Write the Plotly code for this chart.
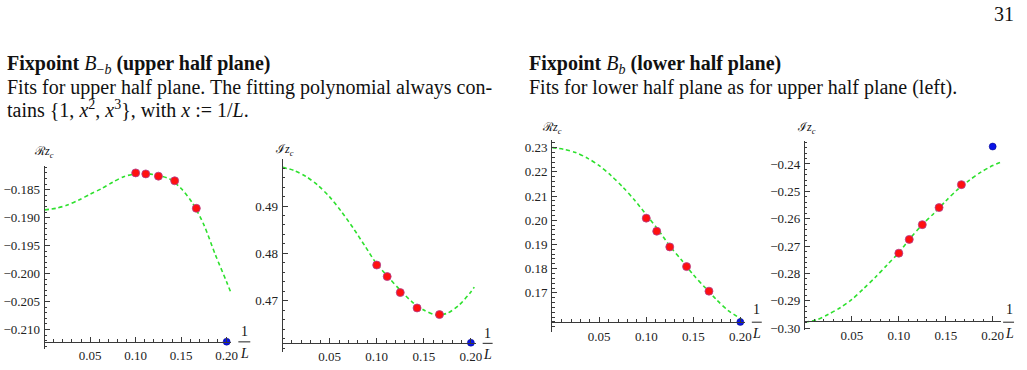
import plotly.graph_objects as go

# ---------------- data ----------------
L_inv = [1/10, 1/9, 1/8, 1/7, 1/6]          # red points, x = 1/L
L_inv_blue = [1/5]                           # blue point

# panel 1: Re z_c, upper half plane
re_up_red = [-0.18201, -0.18219, -0.18259, -0.18342, -0.18834]
re_up_blue = [-0.21218]
re_up_fit_x = [0, 0.0125, 0.025, 0.0375, 0.05, 0.0625, 0.075, 0.0875, 0.1, 0.1125,
               0.125, 0.1375, 0.15, 0.1625, 0.175, 0.1875, 0.2, 0.2044]
re_up_fit_y = [-0.18862, -0.18834, -0.18775, -0.18687, -0.18581, -0.18482, -0.18365,
               -0.18264, -0.18219, -0.18215, -0.18247, -0.18310, -0.18480, -0.18740,
               -0.19130, -0.19660, -0.20150, -0.20329]

# panel 2: Im z_c, upper half plane
im_up_red = [0.47755, 0.47512, 0.47174, 0.46849, 0.46710]
im_up_blue = [0.46116]
im_up_fit_x = [0, 0.0125, 0.025, 0.0375, 0.05, 0.0625, 0.075, 0.0875, 0.1, 0.1125,
               0.125, 0.1375, 0.15, 0.1625, 0.175, 0.1875, 0.2, 0.2036]
im_up_fit_y = [0.49815, 0.49747, 0.49622, 0.49436, 0.49193, 0.48882, 0.48535, 0.48156,
               0.47776, 0.47498, 0.47222, 0.46979, 0.46807, 0.46703, 0.46739, 0.46911,
               0.47187, 0.47290]

# panel 3: Re z_c, lower half plane
re_lo_red = [0.20088, 0.19547, 0.18898, 0.18085, 0.17070]
re_lo_blue = [0.15798]
re_lo_fit_x = [0, 0.0125, 0.025, 0.0375, 0.05, 0.0625, 0.075, 0.0875, 0.1, 0.1125,
               0.125, 0.1375, 0.15, 0.1625, 0.175, 0.1875, 0.2, 0.2029]
re_lo_fit_y = [0.2300, 0.22931, 0.22797, 0.22566, 0.22256, 0.21850, 0.21375, 0.20835,
               0.20226, 0.19617, 0.18938, 0.18357, 0.17748, 0.17220, 0.16704, 0.16257,
               0.15933, 0.15823]

# panel 4: Im z_c, lower half plane
im_lo_red = [-0.27259, -0.26756, -0.26217, -0.25594, -0.24755]
im_lo_blue = [-0.23363]
im_lo_fit_x = [0, 0.0125, 0.025, 0.0375, 0.05, 0.0625, 0.075, 0.0875, 0.1, 0.1125,
               0.125, 0.1375, 0.15, 0.1625, 0.175, 0.1875, 0.2, 0.2083]
im_lo_fit_y = [-0.29777, -0.29694, -0.29489, -0.29252, -0.28950, -0.28554, -0.28137,
               -0.27691, -0.27237, -0.26698, -0.26216, -0.25799, -0.25353, -0.24935,
               -0.24597, -0.24299, -0.24058, -0.23939]

# tick labels
x_ticks = [0.05, 0.10, 0.15, 0.20]
x_tick_text = ["0.05", "0.10", "0.15", "0.20"]
y1_ticks = [-0.210, -0.205, -0.200, -0.195, -0.190, -0.185]
y2_ticks = [0.47, 0.48, 0.49]
y3_ticks = [0.17, 0.18, 0.19, 0.20, 0.21, 0.22, 0.23]
y4_ticks = [-0.30, -0.29, -0.28, -0.27, -0.26, -0.25, -0.24]

# ---------------- layout helpers ----------------
W, H = 1027, 370
FONT = "Liberation Serif"
AX = "#3a3a3a"


def xdom(x0, ppu, xmax):
    return [x0 / W, (x0 + ppu * xmax) / W]


def ydom(top, bottom):
    return [1 - bottom / H, 1 - top / H]


panels = [
    dict(fx=re_up_fit_x, fy=re_up_fit_y, ry=re_up_red, by=re_up_blue,
         x0=45, ppu=916, xmax=0.205, top=168.3, bottom=355.0, yr=[-0.21353, -0.1807],
         origin_px=347.3, yt=y1_ticks, yfmt=".3f", ymin_dt=0.001),
    dict(fx=im_up_fit_x, fy=im_up_fit_y, ry=im_up_red, by=im_up_blue,
         x0=284.5, ppu=948, xmax=0.2055, top=161.7, bottom=358.3, yr=[0.4591, 0.4999],
         origin_px=348.3, yt=y2_ticks, yfmt=".2f", ymin_dt=0.002),
    dict(fx=re_lo_fit_x, fy=re_lo_fit_y, ry=re_lo_red, by=re_lo_blue,
         x0=556, ppu=947, xmax=0.2045, top=142.7, bottom=337.3, yr=[0.1539, 0.2330],
         origin_px=327.3, yt=y3_ticks, yfmt=".2f", ymin_dt=0.002),
    dict(fx=im_lo_fit_x, fy=im_lo_fit_y, ry=im_lo_red, by=im_lo_blue,
         x0=810.5, ppu=945, xmax=0.209, top=143.3, bottom=335.0, yr=[-0.3005, -0.2316],
         origin_px=326.7, yt=y4_ticks, yfmt=".2f", ymin_dt=0.002),
]

fig = go.Figure()
layout = dict(width=W, height=H, margin=dict(l=0, r=0, t=0, b=0), autosize=False,
              paper_bgcolor="white", plot_bgcolor="white", showlegend=False,
              font=dict(family=FONT, size=13, color="#222"))

for i, p in enumerate(panels, start=1):
    xa = "x" if i == 1 else f"x{i}"
    ya = "y" if i == 1 else f"y{i}"
    fig.add_trace(go.Scatter(x=p["fx"], y=p["fy"], mode="lines", xaxis=xa, yaxis=ya,
                             line=dict(color="#2ee02e", width=1.6, dash="4px,3px",
                                       shape="spline", smoothing=0.8),
                             hoverinfo="skip"))
    fig.add_trace(go.Scatter(x=L_inv, y=p["ry"], mode="markers", xaxis=xa, yaxis=ya,
                             cliponaxis=False,
                             marker=dict(color="#ff1010", size=8,
                                         line=dict(color="#b04090", width=0.8))))
    fig.add_trace(go.Scatter(x=L_inv_blue, y=p["by"], mode="markers", xaxis=xa, yaxis=ya,
                             cliponaxis=False,
                             marker=dict(color="#0a14e6", size=7,
                                         line=dict(color="#000080", width=0.5))))

    layout["xaxis" if i == 1 else f"xaxis{i}"] = dict(
        domain=xdom(p["x0"], p["ppu"], p["xmax"]), range=[0, p["xmax"]],
        anchor="free", position=1 - p["origin_px"] / H,
        showline=True, linecolor=AX, linewidth=1, showgrid=False, zeroline=False,
        ticks="inside", ticklen=5, tickcolor=AX, tickwidth=1,
        tickmode="array", tickvals=x_ticks, ticktext=x_tick_text,
        ticklabelstandoff=2,
        tickfont=dict(family=FONT, size=13, color="#222"),
        minor=dict(ticks="inside", ticklen=2.5, tickcolor=AX, tickmode="linear",
                   tick0=0, dtick=0.01, showgrid=False),
        fixedrange=True)
    layout["yaxis" if i == 1 else f"yaxis{i}"] = dict(
        domain=ydom(p["top"], p["bottom"]), range=p["yr"], anchor=xa, side="left",
        showline=True, linecolor=AX, linewidth=1, showgrid=False, zeroline=False,
        ticks="inside", ticklen=5, tickcolor=AX, tickwidth=1,
        tickmode="array", tickvals=p["yt"], tickformat=p["yfmt"],
        ticklabelstandoff=1,
        tickfont=dict(family=FONT, size=13, color="#222"),
        minor=dict(ticks="inside", ticklen=2.5, tickcolor=AX, tickmode="linear",
                   tick0=0, dtick=p["ymin_dt"], showgrid=False),
        fixedrange=True)


def ann(text, x, y, size=20, xanchor="left", yanchor="middle", color="#111"):
    return dict(text=text, x=x / W, y=1 - y / H, xref="paper", yref="paper",
                xanchor=xanchor, yanchor=yanchor, showarrow=False, borderpad=0,
                font=dict(family=FONT, size=size, color=color))


annotations = [
    ann("31", 1022, 14, xanchor="right"),
    ann("<b>Fixpoint</b> <i>B</i><sub>−<i>b</i></sub> <b>(upper half plane)</b>", 6, 66),
    ann("Fits for upper half plane. The fitting polynomial always con-", 6, 89),
    ann("tains {1, <i>x</i><sup>2</sup>, <i>x</i><sup>3</sup>}, with <i>x</i> := 1/<i>L</i>.", 6, 111),
    ann("<b>Fixpoint</b> <i>B</i><sub><i>b</i></sub> <b>(lower half plane)</b>", 532, 66),
    ann("Fits for lower half plane as for upper half plane (left).", 532, 89),
    # axis labels
    ann("ℛ<i>z</i><sub><i>c</i></sub>", 44, 154, size=12, xanchor="center"),
    ann("ℐ<i>z</i><sub><i>c</i></sub>", 286, 152, size=12, xanchor="center"),
    ann("ℛ<i>z</i><sub><i>c</i></sub>", 556, 130, size=12, xanchor="center"),
    ann("ℐ<i>z</i><sub><i>c</i></sub>", 812, 130, size=12, xanchor="center"),
    # 1/L labels
    ann("1", 246, 337, size=14, xanchor="center"),
    ann("<i>L</i>", 246, 359, size=14, xanchor="center"),
    ann("1", 491, 339, size=14, xanchor="center"),
    ann("<i>L</i>", 491, 360, size=14, xanchor="center"),
    ann("1", 762, 315, size=14, xanchor="center"),
    ann("<i>L</i>", 762, 339, size=14, xanchor="center"),
    ann("1", 1016, 315, size=14, xanchor="center"),
    ann("<i>L</i>", 1016, 339, size=14, xanchor="center"),
]

bars = [(240, 252, 347.5), (486, 496, 349), (757, 767, 327.5), (1010, 1021, 327.5)]
shapes = [dict(type="line", xref="paper", yref="paper", x0=a / W, x1=b / W,
               y0=1 - y / H, y1=1 - y / H, line=dict(color="#222", width=1))
          for a, b, y in bars]

layout["annotations"] = annotations
layout["shapes"] = shapes
fig.update_layout(**layout)

fig.write_html("out.html")
